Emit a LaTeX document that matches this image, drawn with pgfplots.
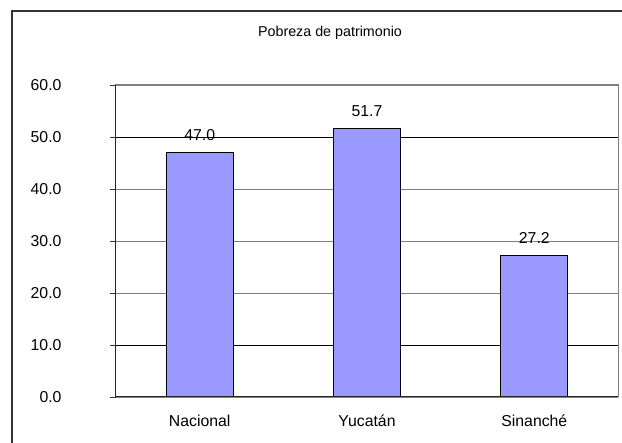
\documentclass[border=0pt]{standalone}
\usepackage{pgfplots}
\pgfplotsset{compat=1.18}
\usepackage{fontspec}
\setmainfont{Liberation Sans}
\definecolor{barfill}{HTML}{9999FF}
\definecolor{gridgray}{HTML}{808080}
\begin{document}
\begin{tikzpicture}[x=1pt,y=1pt]
\useasboundingbox (0,0) rectangle (622,443);
\draw[line width=1.2pt, black!80] (12,-2) -- (12,432) -- (624,432);
\node[font=\fontsize{14.3}{16}\selectfont] at (330,410) {Pobreza de patrimonio};
\begin{axis}[at={(116pt,46pt)}, anchor=south west, scale only axis,
  width=502pt, height=312pt,
  xmin=-0.5, xmax=2.5, ymin=0, ymax=60,
  ytick={0,10,...,60},
  /pgf/number format/fixed, /pgf/number format/fixed zerofill,
  /pgf/number format/precision=1, /pgf/number format/assume math mode=true,
  yticklabel style={anchor=east, xshift=-45pt, font=\fontsize{15.8}{18}\selectfont},
  xtick={0,1,2}, xticklabels={Nacional, Yucatán, Sinanché},
  xticklabel style={font=\fontsize{15.8}{18}\selectfont, yshift=-8pt,
    text height=12pt, text depth=3pt},
  x tick style={draw=none},
  extra x ticks={-0.5,0.5,1.5,2.5}, extra x tick labels={},
  extra x tick style={tick style={draw=black!80, line width=0.8pt}, major tick length=6pt},
  extra y ticks={10,50}, extra y tick labels={},
  extra y tick style={grid style={black, line width=0.8pt}},
  tick align=outside, xtick pos=bottom, ytick pos=left,
  y tick style={draw=black!80, line width=0.8pt}, major tick length=6pt,
  ymajorgrids, grid style={gridgray, line width=0.8pt},
  axis line style={gridgray, line width=1pt},
  ybar, bar width=0.4,
  nodes near coords,
  nodes near coords style={font=\fontsize{15.8}{18}\selectfont, yshift=8pt},
  clip=false,
]
\addplot[fill=barfill, draw=black, line width=1pt] coordinates {(0,47.0) (1,51.7) (2,27.2)};
\draw[black!85, line width=1pt] (rel axis cs:0,1) -- (rel axis cs:0,0) -- (rel axis cs:1,0);
\end{axis}
\end{tikzpicture}
\end{document}
